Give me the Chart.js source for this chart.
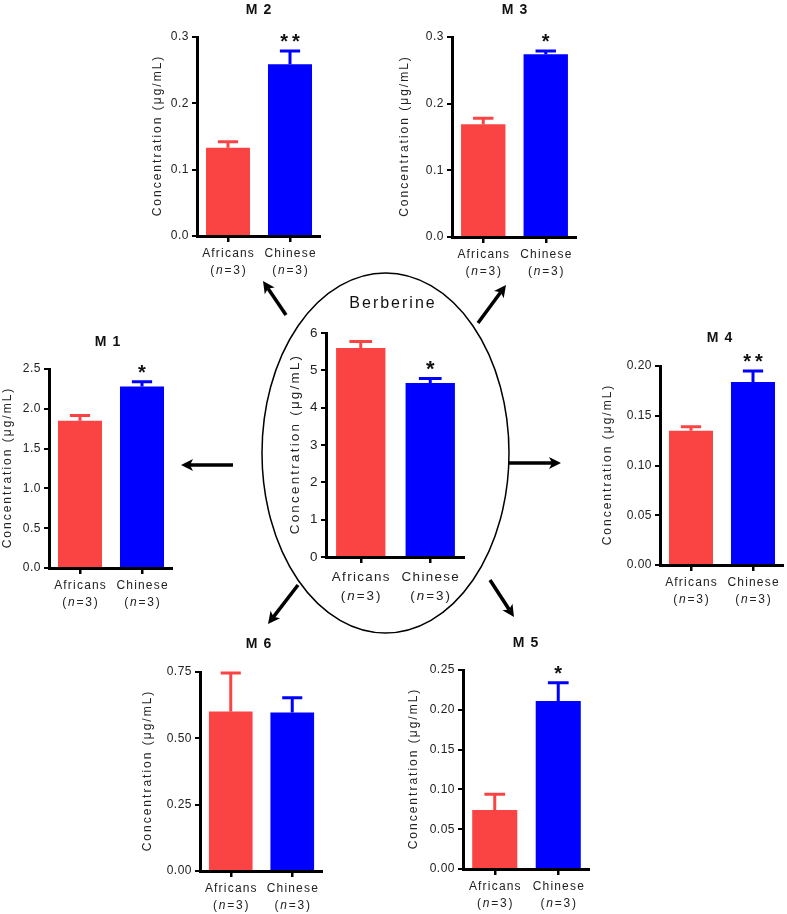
<!DOCTYPE html>
<html>
<head>
<meta charset="utf-8">
<script src="https://cdn.jsdelivr.net/npm/chart.js@4.4.1/dist/chart.umd.min.js"></script>
<style>
  html, body { margin: 0; padding: 0; background: #fff; }
  #fig { position: relative; width: 787px; height: 914px; overflow: hidden; font-family: "Liberation Sans", Arial, sans-serif; }
  #fig canvas { position: absolute; }
  #deco { position: absolute; left: 0; top: 0; }
  .ptitle { position: absolute; transform: translate(-50%, -50%); font-weight: bold; font-size: 14px; letter-spacing: 1px; white-space: nowrap; color: #111; }
  .btitle { position: absolute; transform: translate(-50%, -50%); font-size: 16px; letter-spacing: 2px; white-space: nowrap; color: #111; }
</style>
</head>
<body>
<div id="fig">
  <svg id="deco" width="787" height="914"></svg>
</div>
<script>
// groups and sample size
const groups = ['Africans', 'Chinese'];
const groupN = ['3', '3'];
const barColors = ['#FA4444', '#0000FF'];

// mean and upper error per group, µg/mL
const berberineMean = [5.60, 4.66];
const berberineErr = [0.17, 0.12];
const berberineSig = ['', '*'];
const berberineTicks = [0, 1, 2, 3, 4, 5, 6];

const m1Mean = [1.85, 2.28];
const m1Err = [0.065, 0.06];
const m1Sig = ['', '*'];
const m1Ticks = [0, 0.5, 1.0, 1.5, 2.0, 2.5];

const m2Mean = [0.133, 0.259];
const m2Err = [0.009, 0.020];
const m2Sig = ['', '**'];
const m2Ticks = [0, 0.1, 0.2, 0.3];

const m3Mean = [0.169, 0.274];
const m3Err = [0.009, 0.005];
const m3Sig = ['', '*'];
const m3Ticks = [0, 0.1, 0.2, 0.3];

const m4Mean = [0.135, 0.184];
const m4Err = [0.004, 0.011];
const m4Sig = ['', '**'];
const m4Ticks = [0, 0.05, 0.10, 0.15, 0.20];

const m5Mean = [0.074, 0.211];
const m5Err = [0.020, 0.023];
const m5Sig = ['', '*'];
const m5Ticks = [0, 0.05, 0.10, 0.15, 0.20, 0.25];

const m6Mean = [0.601, 0.597];
const m6Err = [0.145, 0.056];
const m6Sig = ['', ''];
const m6Ticks = [0, 0.25, 0.50, 0.75];

const yTitle = 'Concentration (\u03bcg/mL)';
const FONT = '"Liberation Sans", Arial, sans-serif';

// where each panel sits in the figure; fs = text scale (centre panel is bigger)
const panels = [
  { name: 'Berberine', mean: berberineMean, err: berberineErr, sig: berberineSig, ticks: berberineTicks, dec: 0, fs: 1.12,
    axisX: 326, axisEnd: 465, top: 333, bottom: 557, yTitleX: 295 },
  { name: 'M 1', mean: m1Mean, err: m1Err, sig: m1Sig, ticks: m1Ticks, dec: 1, fs: 1,
    axisX: 49, axisEnd: 173, top: 369, bottom: 568, yTitleX: 8, titleX: 108, titleY: 341 },
  { name: 'M 2', mean: m2Mean, err: m2Err, sig: m2Sig, ticks: m2Ticks, dec: 1, fs: 1,
    axisX: 197, axisEnd: 321, top: 37, bottom: 236, yTitleX: 158, titleX: 259, titleY: 9 },
  { name: 'M 3', mean: m3Mean, err: m3Err, sig: m3Sig, ticks: m3Ticks, dec: 1, fs: 1,
    axisX: 452, axisEnd: 577, top: 37, bottom: 237, yTitleX: 405, titleX: 515, titleY: 9 },
  { name: 'M 4', mean: m4Mean, err: m4Err, sig: m4Sig, ticks: m4Ticks, dec: 2, fs: 1,
    axisX: 660, axisEnd: 784, top: 366, bottom: 565, yTitleX: 608, titleX: 720, titleY: 337 },
  { name: 'M 5', mean: m5Mean, err: m5Err, sig: m5Sig, ticks: m5Ticks, dec: 2, fs: 1,
    axisX: 463, axisEnd: 590, top: 670, bottom: 869, yTitleX: 414, titleX: 526, titleY: 642 },
  { name: 'M 6', mean: m6Mean, err: m6Err, sig: m6Sig, ticks: m6Ticks, dec: 2, fs: 1,
    axisX: 200, axisEnd: 323, top: 672, bottom: 871, yTitleX: 148, titleX: 259, titleY: 643 }
];

const PAD_TOP = 30;
const X_AXIS_H = 48;
const TITLE_OFF = 12;

// letter spacing is reset whenever the canvas is sized, so set it again
const spacingPlugin = {
  id: 'spacing',
  beforeLayout(chart) { chart.ctx.letterSpacing = '0.5px'; },
  beforeDraw(chart) { chart.ctx.letterSpacing = '0.5px'; }
};

const errorPlugin = {
  id: 'errbars',
  afterDatasetsDraw(chart, args, opts) {
    const { ctx, scales: { x, y } } = chart;
    const meta = chart.getDatasetMeta(0);
    ctx.save();
    opts.mean.forEach((m, i) => {
      const cx = x.getPixelForValue(i);
      const y0 = y.getPixelForValue(m);
      const y1 = y.getPixelForValue(m + opts.err[i]);
      const cap = meta.data[i].width * 0.23;
      ctx.strokeStyle = barColors[i];
      ctx.lineWidth = 3;
      ctx.beginPath();
      ctx.moveTo(cx, y0);
      ctx.lineTo(cx, y1);
      ctx.moveTo(cx - cap, y1);
      ctx.lineTo(cx + cap, y1);
      ctx.stroke();
      if (opts.sig[i]) {
        ctx.fillStyle = '#111';
        ctx.font = 'bold ' + Math.round(20 * opts.fs) + 'px ' + FONT;
        ctx.letterSpacing = '4px';
        ctx.textAlign = 'center';
        ctx.textBaseline = 'alphabetic';
        ctx.fillText(opts.sig[i], cx + 2, y1 - 3);
      }
    });
    ctx.restore();
  }
};

// x labels with italic n, and the rotated y title
const labelPlugin = {
  id: 'labels',
  afterDraw(chart, args, opts) {
    const { ctx, chartArea, scales: { x } } = chart;
    const fs = opts.fs;
    const size = (12 * fs).toFixed(1) + 'px ';
    ctx.save();
    ctx.fillStyle = '#222';
    ctx.textBaseline = 'middle';
    groups.forEach((g, i) => {
      const cx = x.getPixelForValue(i);
      ctx.font = size + FONT;
      ctx.letterSpacing = (1.2 * fs) + 'px';
      ctx.textAlign = 'center';
      ctx.fillText(g, cx + 0.6, chartArea.bottom + 18 * fs);
      const parts = [['(', ''], ['n', 'italic '], ['=' + groupN[i] + ')', '']];
      ctx.letterSpacing = (1.8 * fs) + 'px';
      let total = 0;
      parts.forEach(p => { ctx.font = p[1] + size + FONT; total += ctx.measureText(p[0]).width; });
      let px = cx - total / 2 + 0.9;
      ctx.textAlign = 'left';
      parts.forEach(p => {
        ctx.font = p[1] + size + FONT;
        ctx.fillText(p[0], px, chartArea.bottom + 35 * fs);
        px += ctx.measureText(p[0]).width;
      });
    });
    ctx.translate(TITLE_OFF, (chartArea.top + chartArea.bottom) / 2);
    ctx.rotate(-Math.PI / 2);
    ctx.font = size + FONT;
    ctx.letterSpacing = (2 * fs) + 'px';
    ctx.textAlign = 'center';
    ctx.fillText(yTitle, 1, 0);
    ctx.restore();
  }
};

Chart.defaults.font.family = FONT;
Chart.defaults.font.size = 12;
Chart.defaults.color = '#222';

const fig = document.getElementById('fig');

panels.forEach(p => {
  const left = Math.round(p.yTitleX - TITLE_OFF);
  const top = p.top - PAD_TOP;
  const w = p.axisEnd - left;
  const h = p.bottom - top + X_AXIS_H;
  const yW = p.axisX - left;

  const canvas = document.createElement('canvas');
  canvas.width = w;
  canvas.height = h;
  canvas.style.left = left + 'px';
  canvas.style.top = top + 'px';
  canvas.style.width = w + 'px';
  canvas.style.height = h + 'px';
  fig.appendChild(canvas);

  new Chart(canvas, {
    type: 'bar',
    data: {
      labels: groups,
      datasets: [{
        data: p.mean,
        backgroundColor: barColors,
        borderWidth: 0,
        barPercentage: 0.71,
        categoryPercentage: 1.0
      }]
    },
    options: {
      responsive: false,
      animation: false,
      devicePixelRatio: 1,
      layout: { padding: { top: PAD_TOP, left: 0, right: 0, bottom: 0 } },
      plugins: {
        legend: { display: false },
        tooltip: { enabled: false },
        errbars: { mean: p.mean, err: p.err, sig: p.sig, fs: p.fs },
        labels: { fs: p.fs }
      },
      scales: {
        x: {
          offset: true,
          grid: { offset: false, drawOnChartArea: false, drawTicks: true, tickLength: 6, color: '#000', lineWidth: 2.5 },
          border: { display: true, color: '#000', width: 3 },
          ticks: { display: false },
          afterFit: (scale) => { scale.height = X_AXIS_H; }
        },
        y: {
          min: 0,
          max: p.ticks[p.ticks.length - 1],
          grid: { drawOnChartArea: false, drawTicks: true, tickLength: 5, color: '#000', lineWidth: 2 },
          border: { display: true, color: '#000', width: 3 },
          ticks: { padding: 3, color: '#222', font: { size: 12 * p.fs }, callback: (v) => Number(v).toFixed(p.dec) },
          afterBuildTicks: (scale) => { scale.ticks = p.ticks.map(v => ({ value: v })); },
          afterFit: (scale) => { scale.width = yW; }
        }
      }
    },
    plugins: [spacingPlugin, errorPlugin, labelPlugin]
  });

  const t = document.createElement('div');
  if (p.name === 'Berberine') {
    t.className = 'btitle';
    t.style.left = '393px';
    t.style.top = '303px';
  } else {
    t.className = 'ptitle';
    t.style.left = p.titleX + 'px';
    t.style.top = p.titleY + 'px';
  }
  t.textContent = p.name;
  fig.appendChild(t);
});

// ellipse around the parent compound and arrows to its metabolites
const svg = document.getElementById('deco');
const NS = 'http://www.w3.org/2000/svg';
const el = document.createElementNS(NS, 'ellipse');
el.setAttribute('cx', 385.5);
el.setAttribute('cy', 453);
el.setAttribute('rx', 123.5);
el.setAttribute('ry', 180);
el.setAttribute('fill', 'none');
el.setAttribute('stroke', '#000');
el.setAttribute('stroke-width', 1.5);
svg.appendChild(el);

const arrows = [
  [286, 315, 263, 281],
  [478, 323, 506, 285],
  [509, 463, 561, 463],
  [298, 585, 268, 624],
  [490, 580, 514, 617],
  [233, 465, 181, 465]
];

arrows.forEach(([x1, y1, x2, y2]) => {
  const dx = x2 - x1, dy = y2 - y1;
  const L = Math.hypot(dx, dy);
  const ux = dx / L, uy = dy / L;
  const hl = 12, hw = 6;
  const bx = x2 - ux * hl, by = y2 - uy * hl;
  const line = document.createElementNS(NS, 'line');
  line.setAttribute('x1', x1);
  line.setAttribute('y1', y1);
  line.setAttribute('x2', bx + ux * 3);
  line.setAttribute('y2', by + uy * 3);
  line.setAttribute('stroke', '#000');
  line.setAttribute('stroke-width', 3.5);
  svg.appendChild(line);
  const head = document.createElementNS(NS, 'polygon');
  const pts = [
    [x2, y2],
    [bx - uy * hw, by + ux * hw],
    [bx + ux * 3, by + uy * 3],
    [bx + uy * hw, by - ux * hw]
  ];
  head.setAttribute('points', pts.map(q => q.join(',')).join(' '));
  head.setAttribute('fill', '#000');
  svg.appendChild(head);
});
</script>
</body>
</html>
